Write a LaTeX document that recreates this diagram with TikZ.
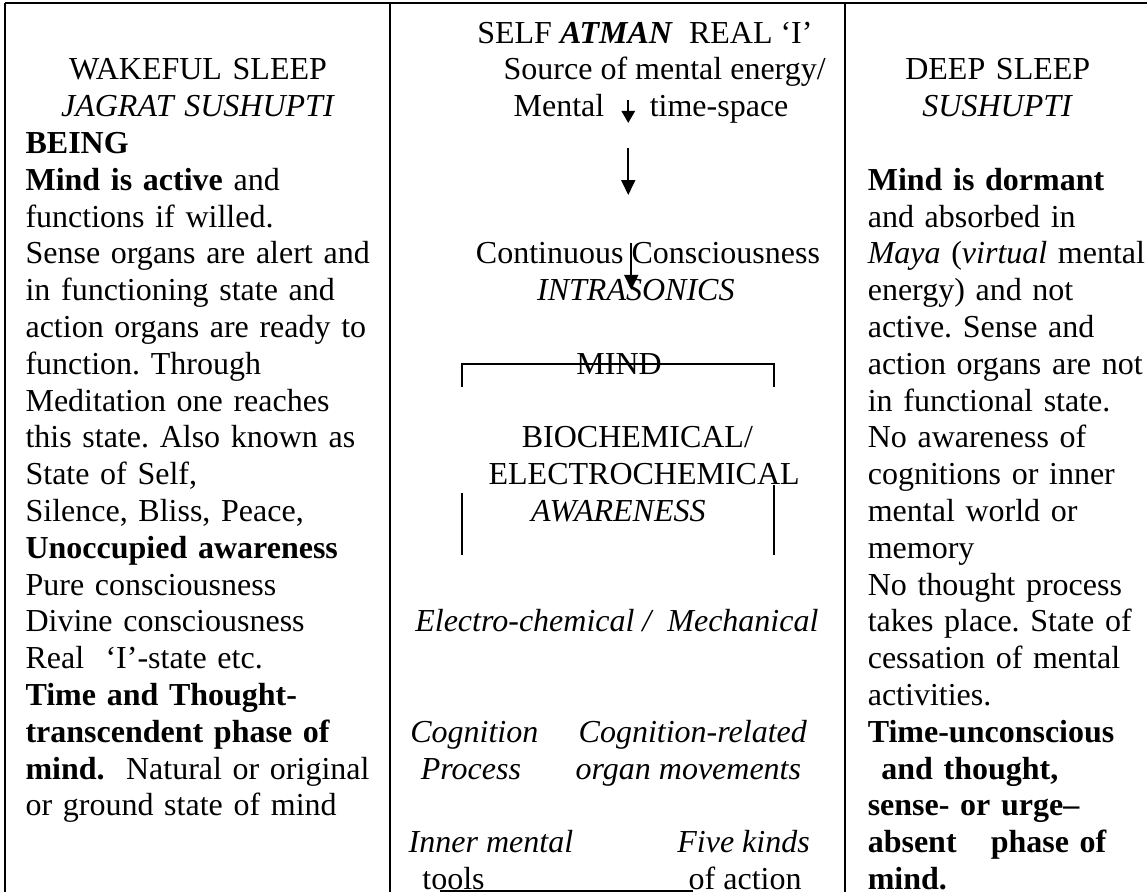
\documentclass[tikz,border=0pt]{standalone}
\usepackage{fontspec}
\setmainfont{Liberation Serif}
\usetikzlibrary{arrows.meta}
\tikzset{txt/.style={inner sep=0pt,font=\fontsize{12pt}{13.8pt}\selectfont\frenchspacing},
         body/.style={txt,anchor=base west,align=left},
         head/.style={txt,anchor=base,align=center,text width=4cm},
         mid/.style={txt,anchor=base},
         midl/.style={txt,anchor=base west},
         rule/.style={line width=0.75pt},
         down/.style={line width=0.75pt,-{Triangle[length=5.6pt,width=5.2pt]}},
        }

\begin{document}
\begin{tikzpicture}
        \useasboundingbox(0,0)rectangle(15.117,-11.756);

        % table frame
        \draw[rule](0.066,-0.04)--(15.117,-0.04);
        \draw[rule](0.066,-0.04)--(0.066,-11.756);
        \draw[rule](5.14,-0.04)--(5.14,-11.756);
        \draw[rule](11.137,-0.04)--(11.137,-11.756);

        % left column
        \node[head](wake)at(2.61,-1.054){WAKEFUL SLEEP\\\textit{JAGRAT SUSHUPTI}};
        \node[body,text width=4.8cm](being)at(0.33,-2.024){\textbf{BEING}\\
            \textbf{Mind is active} and\\
            functions if willed.\\
            Sense organs are alert and\\
            in functioning state and\\
            action organs are ready to\\
            function. Through\\
            Meditation one reaches\\
            this state. Also known as\\
            State of Self,\\
            Silence, Bliss, Peace,\\
            \textbf{Unoccupied awareness}\\
            Pure consciousness\\
            Divine consciousness\\
            Real\ \ ‘I’-state etc.\\
            \textbf{Time and Thought-}\\
            \textbf{transcendent phase of}\\
            \textbf{mind.}\ \ Natural or original\\
            or ground state of mind};

        % right column
        \node[head](deep)at(13.15,-1.054){DEEP SLEEP\\\textit{SUSHUPTI}};
        \node[body,text width=4.5cm](dormant)at(11.43,-2.509){\textbf{Mind is dormant}\\
            and absorbed in\\
            \textit{Maya} (\textit{virtual} mental\\
            energy) and not\\
            active. Sense and\\
            action organs are not\\
            in functional state.\\
            No awareness of\\
            cognitions or inner\\
            mental world or\\
            memory\\
            No thought process\\
            takes place. State of\\
            cessation of mental\\
            activities.\\
            \textbf{Time-unconscious}\\
            \hspace*{0.18cm}\textbf{and thought,}\\
            \textbf{sense- or urge–}\\
            \textbf{absent\hspace{0.45cm}phase of}\\
            \textbf{mind.}};

        % middle column
        \node[mid](self)at(8.50,-0.569){SELF \textbf{\textit{ATMAN}}\ \ REAL ‘I’};
        \node[mid](source)at(8.76,-1.054){Source of mental energy/};
        \node[mid](mental)at(8.58,-1.539){Mental\hspace{0.6cm}time-space};
        \coordinate(m1)at(8.28,-1.32);
        \coordinate(m2)at(8.28,-1.62);
        \draw[line width=0.75pt,-{Triangle[length=4.5pt,width=5pt]}](m1)--(m2);

        \coordinate(a1)at(8.28,-1.95);
        \coordinate(a2)at(8.28,-2.57);
        \draw[down](a1)--(a2);

        \node[mid](cont)at(8.54,-3.479){Continuous Consciousness};
        \node[mid](intra)at(8.38,-3.964){\textit{INTRASONICS}};
        \coordinate(c1)at(8.32,-3.20);
        \coordinate(c2)at(8.32,-3.82);
        \draw[down](c1)--(c2);

        \node[mid](mind)at(8.16,-4.934){MIND};
        \draw[rule](6.09,-5.10)--(6.09,-4.80)--(10.20,-4.80)--(10.20,-5.10);

        \node[mid](bio)at(8.40,-5.904){BIOCHEMICAL/};
        \node[mid](electro)at(8.49,-6.389){ELECTROCHEMICAL};
        \node[mid](aware)at(8.15,-6.874){\textit{AWARENESS}};
        \draw[rule](6.09,-6.50)--(6.09,-7.31);
        \draw[rule](10.20,-6.39)--(10.20,-7.31);

        \node[mid](mech)at(8.13,-8.329){\textit{Electro-chemical /\ \ Mechanical}};
        \node[midl](cog)at(5.40,-9.784){\textit{Cognition}};
        \node[midl](cogrel)at(7.62,-9.784){\textit{Cognition-related}};
        \node[midl](proc)at(5.54,-10.269){\textit{Process}};
        \node[midl](organ)at(7.58,-10.269){\textit{organ movements}};
        \node[midl](inner)at(5.38,-11.239){\textit{Inner mental}};
        \node[midl](five)at(8.92,-11.239){\textit{Five kinds}};
        \node[midl](tools)at(5.56,-11.724){tools};
        \node[midl](action)at(9.07,-11.724){of action};
        \draw[rule](5.80,-11.74)--(9.13,-11.74);
    \end{tikzpicture}
\end{document}
